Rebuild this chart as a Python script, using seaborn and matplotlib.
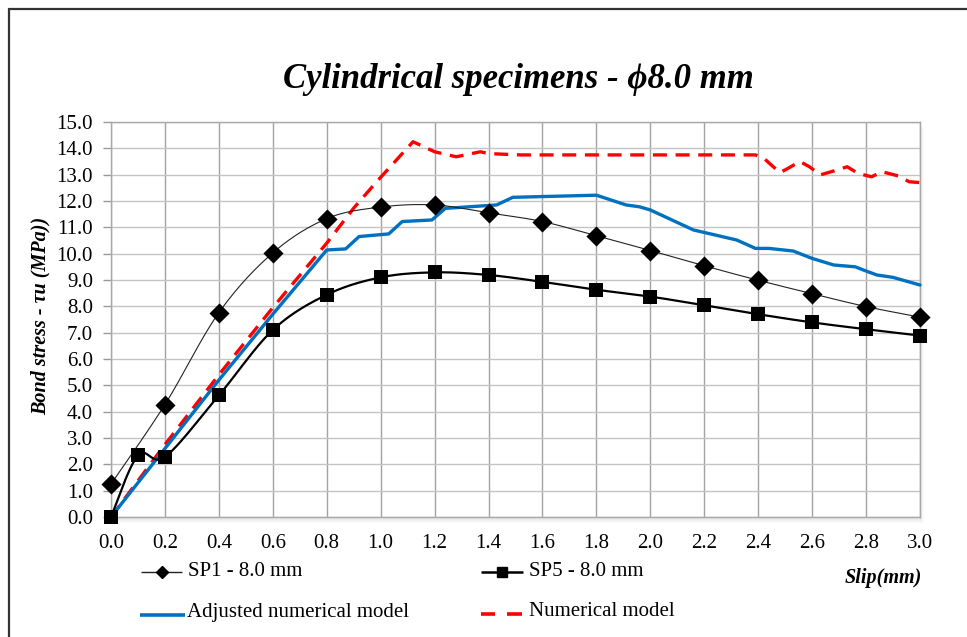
import numpy as np
import pandas as pd
import matplotlib
matplotlib.use("Agg")
import matplotlib.pyplot as plt
import seaborn as sns
from matplotlib.lines import Line2D
from matplotlib.patches import Rectangle

# ---------------- data ----------------
sp1_x = [0.0, 0.2, 0.4, 0.6, 0.8, 1.0, 1.2, 1.4, 1.6, 1.8, 2.0, 2.2, 2.4, 2.6, 2.8, 3.0]
sp1_y = [1.25, 4.27, 7.76, 10.03, 11.33, 11.77, 11.85, 11.55, 11.22, 10.68, 10.12, 9.54, 8.99, 8.48, 7.99, 7.59]

sp5_x = [0.0, 0.1, 0.2, 0.4, 0.6, 0.8, 1.0, 1.2, 1.4, 1.6, 1.8, 2.0, 2.2, 2.4, 2.6, 2.8, 3.0]
sp5_y = [0.0, 2.34, 2.28, 4.62, 7.1, 8.44, 9.1, 9.29, 9.19, 8.93, 8.63, 8.37, 8.04, 7.7, 7.39, 7.13, 6.89]

adj_x = [0.0, 0.2, 0.4, 0.6, 0.8, 0.87, 0.92, 1.03, 1.08, 1.19, 1.24, 1.43, 1.49, 1.8,
         1.91, 1.96, 2.0, 2.16, 2.32, 2.39, 2.44, 2.53, 2.6, 2.68, 2.76, 2.79, 2.84, 2.9, 3.0]
adj_y = [0.0, 2.6, 5.2, 7.7, 10.14, 10.18, 10.65, 10.75, 11.22, 11.28, 11.72, 11.85, 12.14, 12.22,
         11.85, 11.78, 11.66, 10.9, 10.52, 10.2, 10.2, 10.1, 9.82, 9.57, 9.5, 9.38, 9.19, 9.1, 8.81]

num_x = [0.0, 0.2, 0.4, 0.6, 0.8, 0.9, 0.985, 1.12, 1.2, 1.28, 1.37, 1.4, 1.52, 2.39, 2.42,
         2.48, 2.5, 2.555, 2.59, 2.63, 2.67, 2.73, 2.77, 2.82, 2.86, 2.92, 2.96, 3.0]
num_y = [0.0, 2.75, 5.4, 7.95, 10.4, 11.73, 12.73, 14.25, 13.87, 13.68, 13.87, 13.8, 13.75, 13.75,
         13.63, 13.08, 13.18, 13.5, 13.3, 12.99, 13.11, 13.3, 13.05, 12.92, 13.11, 12.95, 12.73, 12.7]

x_ticks = [0.0, 0.2, 0.4, 0.6, 0.8, 1.0, 1.2, 1.4, 1.6, 1.8, 2.0, 2.2, 2.4, 2.6, 2.8, 3.0]
y_ticks = [0, 1, 2, 3, 4, 5, 6, 7, 8, 9, 10, 11, 12, 13, 14, 15]

title = "Cylindrical specimens - \u03d58.0 mm"
ylabel = "Bond stress - \u03c4u (MPa))"
xlabel = "Slip(mm)"
labels = ["SP1 - 8.0 mm", "SP5 - 8.0 mm", "Adjusted numerical model", "Numerical model"]

BLUE = "#0070C0"
RED = "#FF0000"

# ---------------- style ----------------
sns.set_theme(style="white")
plt.rcParams['font.family'] = ['Liberation Serif', 'DejaVu Serif']

W, H = 967, 637
fig = plt.figure(figsize=(W / 100, H / 100), dpi=100)
fig.patch.set_facecolor("white")


def fx(px):
    return px / W


def fy(py):
    return 1 - py / H


L, R, T, B = 111, 920, 122, 517
ax = fig.add_axes([fx(L), fy(B), fx(R) - fx(L), fy(T) - fy(B)])
ax.set_facecolor("white")


def smooth(x, y, n=24):
    """Catmull-Rom curve through the points (like Excel's smoothed line)."""
    P = np.column_stack([x, y]).astype(float)
    P = np.vstack([P[0], P, P[-1]])
    out = []
    t = np.linspace(0, 1, n, endpoint=False)[:, None]
    for i in range(1, len(P) - 2):
        p0, p1, p2, p3 = P[i - 1], P[i], P[i + 1], P[i + 2]
        pts = 0.5 * ((2 * p1) + (-p0 + p2) * t + (2 * p0 - 5 * p1 + 4 * p2 - p3) * t ** 2
                     + (-p0 + 3 * p1 - 3 * p2 + p3) * t ** 3)
        out.append(pts)
    out.append(P[-2][None])
    return np.vstack(out)


# shadow under plot area
for i in range(1, 7):
    fig.patches.append(Rectangle((fx(L + i * 0.6), fy(B + i)), fx(R) - fx(L), fy(T) - fy(B),
                                 transform=fig.transFigure, facecolor="black",
                                 alpha=0.018, edgecolor="none", zorder=-1))

# numerical model (red dashed)
sns.lineplot(x=num_x, y=num_y, ax=ax, color=RED, linewidth=2.4, sort=False,
             estimator=None, legend=False)
ax.lines[-1].set_dashes([4.2, 2.6])
ax.lines[-1].set_zorder(3)

# adjusted numerical model (blue)
sns.lineplot(x=adj_x, y=adj_y, ax=ax, color=BLUE, linewidth=2.4, sort=False,
             estimator=None, legend=False)
ax.lines[-1].set_solid_joinstyle("round")
ax.lines[-1].set_zorder(3)

# SP1
s1 = smooth(sp1_x, sp1_y)
sns.lineplot(x=s1[:, 0], y=s1[:, 1], ax=ax, color="#222222", linewidth=0.8, sort=False,
             estimator=None, legend=False)
ax.lines[-1].set_zorder(4)
sns.scatterplot(x=sp1_x, y=sp1_y, ax=ax, marker="D", s=105, color="black",
                edgecolor="black", linewidth=0, legend=False, zorder=5, clip_on=False)

# SP5
s5 = smooth(sp5_x, sp5_y)
sns.lineplot(x=s5[:, 0], y=s5[:, 1], ax=ax, color="black", linewidth=1.6, sort=False,
             estimator=None, legend=False)
ax.lines[-1].set_zorder(4)
sns.scatterplot(x=sp5_x, y=sp5_y, ax=ax, marker="s", s=100, color="black",
                edgecolor="black", linewidth=0, legend=False, zorder=6, clip_on=False)

for ln in ax.lines:
    ln.set_clip_on(False)

# axes
ax.set_xlim(0, 3)
ax.set_ylim(0, 15)
ax.set_xticks(x_ticks)
ax.set_xticklabels([f"{v:.1f}" for v in x_ticks])
ax.set_yticks(y_ticks)
ax.set_yticklabels([f"{v:.1f}" for v in y_ticks])
ax.tick_params(axis="y", which="both", left=True, length=6, width=1, color="#9a9a9a",
               pad=7, labelsize=15, labelcolor="black", direction="out")
ax.tick_params(axis="x", which="both", bottom=False, length=0, pad=12, labelsize=15,
               labelcolor="black")
ax.set_axisbelow(True)
ax.yaxis.grid(True, color="#c4c4c4", linewidth=1.0)
ax.xaxis.grid(True, color="#a2a2a2", linewidth=1.0)
for sp in ax.spines.values():
    sp.set_visible(True)
    sp.set_color("#a8a8a8")
    sp.set_linewidth(1.0)
ax.set_xlabel("")
ax.set_ylabel("")

# title & axis labels
fig.text(fx(518), fy(79), title, ha="center", va="center", fontsize=25, style="italic",
         fontweight="bold", color="black")
fig.text(fx(41), fy(316), ylabel, ha="center", va="center", rotation=90, fontsize=14.5,
         style="italic", fontweight="bold", color="black")
fig.text(fx(883), fy(578), xlabel, ha="center", va="center", fontsize=14.5,
         style="italic", fontweight="bold", color="black")

# legend (manual, Excel-like layout)
tf = fig.transFigure


def handle(x0, x1, y, **kw):
    fig.add_artist(Line2D([fx(x0), fx(x1)], [fy(y), fy(y)], transform=tf,
                          solid_capstyle="butt", **kw))


handle(141, 182, 571.5, color="#222222", linewidth=1.0)
fig.add_artist(Line2D([fx(162)], [fy(571.5)], transform=tf, marker="D", markersize=6.5,
                      color="black", linestyle="none"))
handle(481, 523, 571.5, color="black", linewidth=1.8)
fig.add_artist(Line2D([fx(502)], [fy(571.5)], transform=tf, marker="s", markersize=7,
                      color="black", linestyle="none"))
handle(140, 185, 614.5, color=BLUE, linewidth=2.6)
handle(481, 495, 613.5, color=RED, linewidth=2.6)
handle(507, 522, 613.5, color=RED, linewidth=2.6)

fig.text(fx(188), fy(571), labels[0], ha="left", va="center", fontsize=15, color="black")
fig.text(fx(529), fy(571), labels[1], ha="left", va="center", fontsize=15, color="black")
fig.text(fx(187), fy(612), labels[2], ha="left", va="center", fontsize=15, color="black")
fig.text(fx(529), fy(612), labels[3], ha="left", va="center", fontsize=15, color="black")

# outer frame (only left and top edges are visible in the reference)
fig.add_artist(Line2D([fx(8.5), fx(8.5)], [fy(9), 0], transform=tf, color="#333333", linewidth=1.6))
fig.add_artist(Line2D([fx(8.5), 1], [fy(9), fy(9)], transform=tf, color="#333333", linewidth=1.6))

fig.savefig("out.png", dpi=100)
